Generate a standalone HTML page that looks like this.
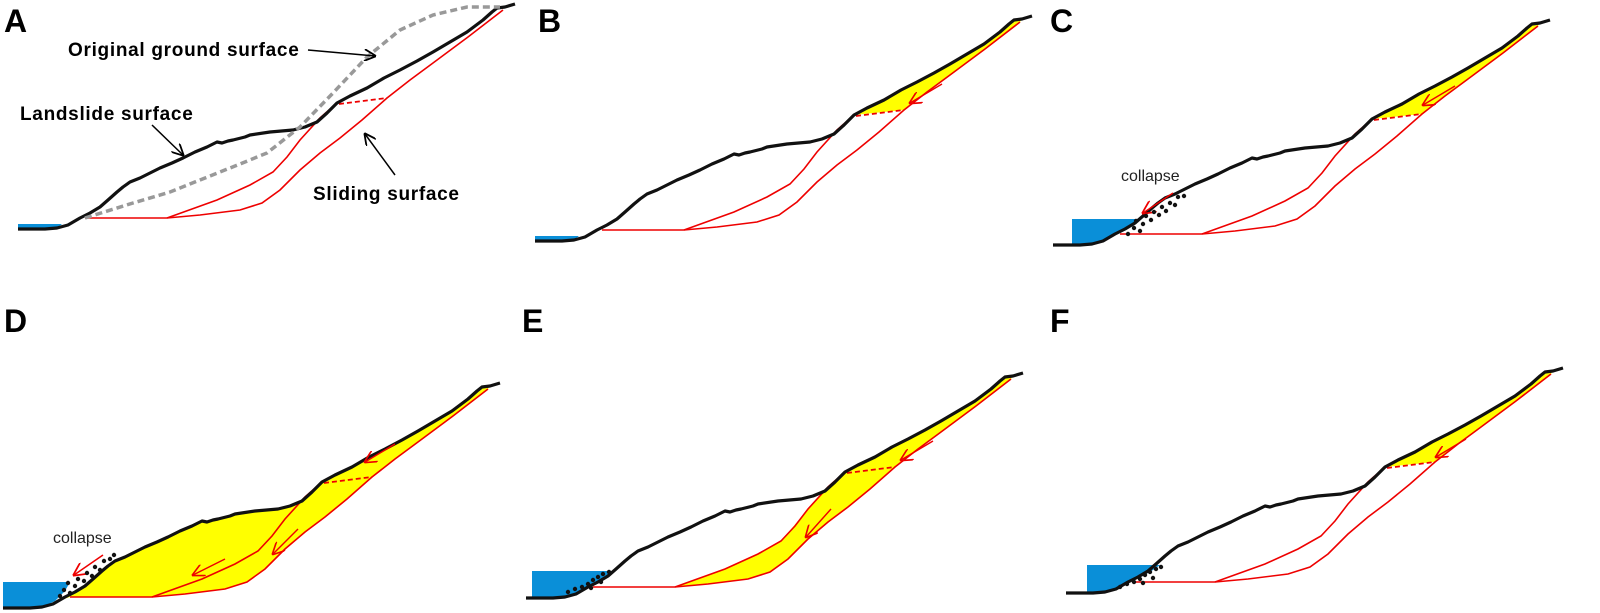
<!DOCTYPE html>
<html><head><meta charset="utf-8"><style>
html,body{margin:0;padding:0;background:#fff}
svg{display:block}
text{font-family:"Liberation Sans",Arial,sans-serif}
.lbl{font-size:32px;font-weight:bold}
.ann{font-size:19px;font-weight:bold;letter-spacing:0.7px}
</style></head><body>
<svg width="1600" height="613" viewBox="0 0 1600 613">
<defs>
<marker id="ah" viewBox="0 0 10 10" refX="9" refY="5" markerWidth="8" markerHeight="8" orient="auto"><path d="M0,0 L10,5 L0,10" fill="none" stroke="#000" stroke-width="1.5"/></marker>
<marker id="ahr" viewBox="0 0 10 10" refX="9" refY="5" markerWidth="9" markerHeight="9" orient="auto"><path d="M0,0 L10,5 L0,10" fill="none" stroke="#e00" stroke-width="1.3"/></marker>
<path id="yTop" d="M337,103 L350,96 367,88 384,78 400,70 417,61 433,52 450,42 467,32 483,20 492,12 497,8 505,7 503,10 468,37 433,63 410,80 387,98 Z" fill="#ffff00"/>
<path id="yMid" d="M167,218 L217,200 250,185 273,172 300,140 320,118 337,103 387,98 362,120 340,138 300,170 280,190 262,203 240,210 200,215 Z" fill="#ffff00"/>
<path id="yAll" d="M55,228 L68,225 80,218 90,213 100,207 108,200 117,192 123,187 130,182 140,178 150,173 160,168 172,163 183,158 195,152 207,147 217,142 222,143 233,140 245,137 250,135 270,132 293,130 305,127 317,122 327,113 337,103 350,96 367,88 384,78 400,70 417,61 433,52 450,42 467,32 483,20 492,12 497,8 505,7 503,10 468,37 433,63 410,80 387,98 362,120 340,138 300,170 280,190 262,203 240,210 200,215 167,218 85,218 Z" fill="#ffff00"/>
<g id="base">
<polyline points="85,218 167,218 200,215 240,210 262,203 280,190 300,170 320,153 340,138 362,120 387,98 410,80 433,63 468,37 503,10" fill="none" stroke="#e00" stroke-width="1.6"/>
<polyline points="167,218 217,200 250,185 273,172 287,157 300,140 320,118 337,103" fill="none" stroke="#e00" stroke-width="1.6"/>
<line x1="339" y1="104" x2="387" y2="98" stroke="#e00" stroke-width="1.8" stroke-dasharray="5,3"/>
<polyline points="18,229 45,229 57,228 68,225 80,218 90,213 100,207 108,200 117,192 123,187 130,182 140,178 150,173 160,168 172,163 183,158 195,152 207,147 217,142 222,143 228,141 233,140 245,137 250,135 270,132 293,130 305,127 317,122 327,113 337,103 350,96 367,88 384,78 400,70 417,61 433,52 450,42 467,32 483,20 492,12 497,8 505,7 515,4" fill="none" stroke="#111" stroke-width="3.2" stroke-linejoin="round"/>
</g>
</defs>

<!-- Panel A -->
<g>
<text class="lbl" x="4" y="32">A</text>
<path d="M18,224 L62,224 57,228 18,229 Z" fill="#0a8fd8"/>
<use href="#base"/>
<polyline points="85,218 133,203 170,192 200,180 235,166 267,153 300,127 333,93 367,57 400,30 433,15 467,7 500,7" fill="none" stroke="#999" stroke-width="3.5" stroke-dasharray="7,4"/>
<text class="ann" x="68" y="56">Original ground surface</text>
<line x1="308" y1="50" x2="375" y2="56" stroke="#000" stroke-width="1.5" marker-end="url(#ah)"/>
<text class="ann" x="20" y="120">Landslide surface</text>
<line x1="152" y1="125" x2="183" y2="155" stroke="#000" stroke-width="1.5" marker-end="url(#ah)"/>
<text class="ann" x="313" y="200">Sliding surface</text>
<line x1="395" y1="175" x2="365" y2="134" stroke="#000" stroke-width="1.5" marker-end="url(#ah)"/>
</g>

<!-- Panel B -->
<g>
<text class="lbl" x="538" y="32">B</text>
<g transform="translate(517,12)">
<path d="M18,224 L62,224 57,228 18,229 Z" fill="#0a8fd8"/>
<use href="#yTop"/><use href="#base"/>
<line x1="425" y1="72" x2="393" y2="91" stroke="#e00" stroke-width="1.4" marker-end="url(#ahr)"/>
</g>
</g>

<!-- Panel C -->
<g>
<text class="lbl" x="1050" y="32">C</text>
<g transform="translate(1035,16)">
<path d="M37,203 L103,203 95,210 80,218 68,225 57,228 37,229 Z" fill="#0a8fd8"/>
<use href="#yTop"/><use href="#base"/>
<line x1="420" y1="70" x2="388" y2="89" stroke="#e00" stroke-width="1.4" marker-end="url(#ahr)"/>
</g>
<text x="1121" y="181" font-size="16" fill="#222">collapse</text>
<line x1="1173" y1="193" x2="1143" y2="213" stroke="#e00" stroke-width="1.5" marker-end="url(#ahr)"/>
<g fill="#111">
<circle cx="1128" cy="234" r="2.2"/><circle cx="1134" cy="228" r="2.2"/><circle cx="1140" cy="231" r="2.2"/><circle cx="1136" cy="221" r="2.2"/><circle cx="1143" cy="224" r="2.2"/><circle cx="1146" cy="216" r="2.2"/><circle cx="1151" cy="220" r="2.2"/><circle cx="1154" cy="212" r="2.2"/><circle cx="1159" cy="215" r="2.2"/><circle cx="1162" cy="207" r="2.2"/><circle cx="1166" cy="211" r="2.2"/><circle cx="1170" cy="203" r="2.2"/><circle cx="1175" cy="205" r="2.2"/><circle cx="1178" cy="197" r="2.2"/><circle cx="1184" cy="196" r="2.2"/>
</g>
</g>

<!-- Panel D -->
<g>
<text class="lbl" x="4" y="332">D</text>
<g transform="translate(-15,379)">
<use href="#yAll"/>
<path d="M18,203 L85,203 80,212 70,222 60,227 40,229 18,229 Z" fill="#0a8fd8"/>
<use href="#base"/>
<line x1="410" y1="65" x2="380" y2="83" stroke="#e00" stroke-width="1.4" marker-end="url(#ahr)"/>
<line x1="313" y1="150" x2="288" y2="175" stroke="#e00" stroke-width="1.4" marker-end="url(#ahr)"/>
<line x1="240" y1="180" x2="208" y2="196" stroke="#e00" stroke-width="1.4" marker-end="url(#ahr)"/>
</g>
<text x="53" y="543" font-size="16" fill="#222">collapse</text>
<line x1="103" y1="555" x2="74" y2="575" stroke="#e00" stroke-width="1.5" marker-end="url(#ahr)"/>
<g fill="#111">
<circle cx="60" cy="596" r="2.2"/><circle cx="64" cy="590" r="2.2"/><circle cx="70" cy="593" r="2.2"/><circle cx="68" cy="583" r="2.2"/><circle cx="75" cy="586" r="2.2"/><circle cx="78" cy="579" r="2.2"/><circle cx="84" cy="581" r="2.2"/><circle cx="87" cy="573" r="2.2"/><circle cx="92" cy="576" r="2.2"/><circle cx="95" cy="567" r="2.2"/><circle cx="100" cy="570" r="2.2"/><circle cx="104" cy="561" r="2.2"/><circle cx="110" cy="559" r="2.2"/><circle cx="114" cy="555" r="2.2"/>
</g>
</g>

<!-- Panel E -->
<g>
<text class="lbl" x="522" y="332">E</text>
<g transform="translate(508,369)">
<use href="#yTop"/><use href="#yMid"/>
<path d="M24,202 L105,202 100,207 90,213 80,218 68,225 57,228 24,229 Z" fill="#0a8fd8"/>
<use href="#base"/>
<line x1="425" y1="72" x2="393" y2="91" stroke="#e00" stroke-width="1.4" marker-end="url(#ahr)"/>
<line x1="323" y1="140" x2="298" y2="168" stroke="#e00" stroke-width="1.4" marker-end="url(#ahr)"/>
</g>
<g fill="#111">
<circle cx="568" cy="592" r="2.2"/><circle cx="575" cy="589" r="2.2"/><circle cx="582" cy="587" r="2.2"/><circle cx="588" cy="584" r="2.2"/><circle cx="593" cy="580" r="2.2"/><circle cx="598" cy="577" r="2.2"/><circle cx="603" cy="574" r="2.2"/><circle cx="609" cy="572" r="2.2"/><circle cx="591" cy="588" r="2.2"/><circle cx="601" cy="582" r="2.2"/>
</g>
</g>

<!-- Panel F -->
<g>
<text class="lbl" x="1050" y="332">F</text>
<g transform="translate(1048,364)">
<path d="M39,201 L112,201 105,206 95,212 80,218 68,225 57,228 39,228 Z" fill="#0a8fd8"/>
<use href="#yTop"/><use href="#base"/>
<line x1="418" y1="75" x2="388" y2="93" stroke="#e00" stroke-width="1.4" marker-end="url(#ahr)"/>
</g>
<g fill="#111">
<circle cx="1120" cy="587" r="2.2"/><circle cx="1127" cy="584" r="2.2"/><circle cx="1134" cy="582" r="2.2"/><circle cx="1140" cy="579" r="2.2"/><circle cx="1145" cy="575" r="2.2"/><circle cx="1150" cy="572" r="2.2"/><circle cx="1156" cy="569" r="2.2"/><circle cx="1161" cy="567" r="2.2"/><circle cx="1143" cy="583" r="2.2"/><circle cx="1153" cy="578" r="2.2"/>
</g>
</g>
</svg>
</body></html>
